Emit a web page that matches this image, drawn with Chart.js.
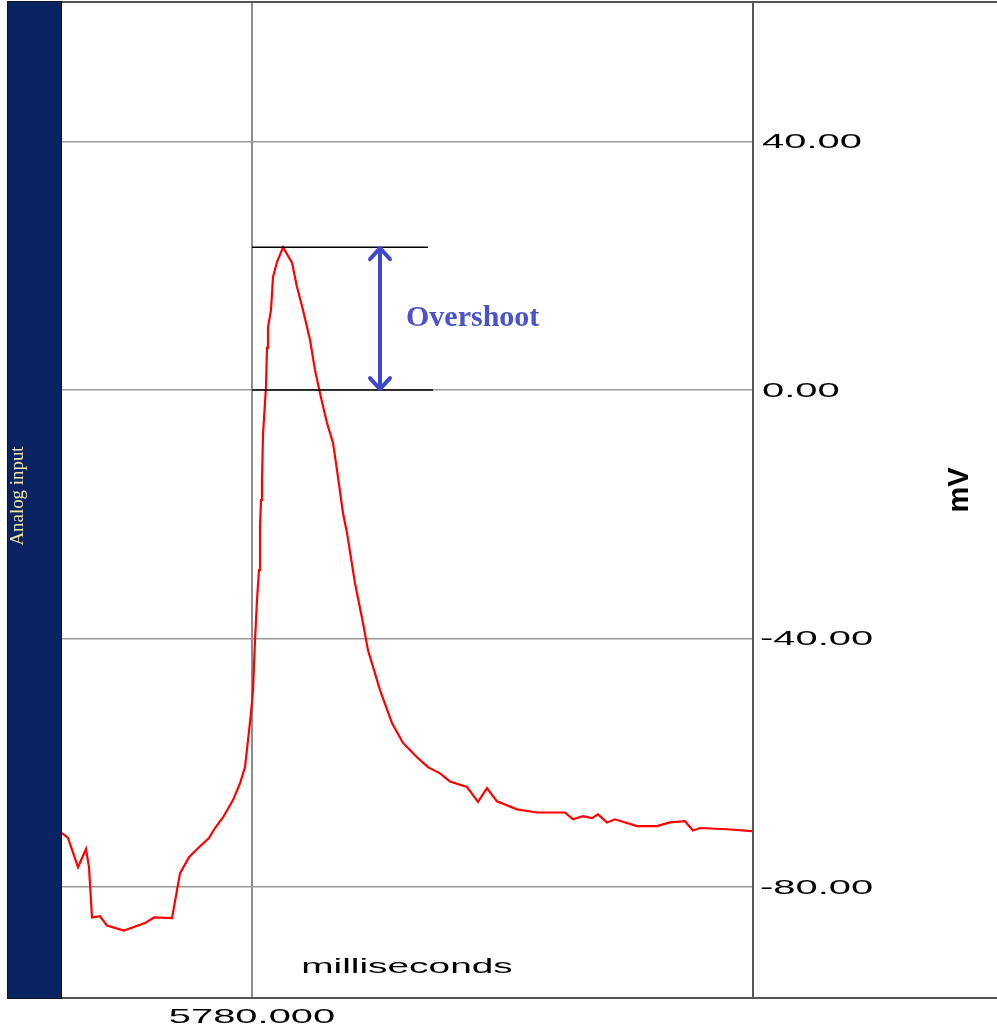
<!DOCTYPE html>
<html>
<head>
<meta charset="utf-8">
<script src="https://cdn.jsdelivr.net/npm/chart.js@4/dist/chart.umd.min.js"></script>
<style>
html,body{margin:0;padding:0;background:#fff;}
#wrap{position:relative;width:997px;height:1035px;}
</style>
</head>
<body>
<div id="wrap"><canvas id="apChart" width="997" height="1035"></canvas></div>
<script>
// trace (ms, mV)
const timeMs = [5776.20,5776.32,5776.52,5776.68,5776.74,5776.80,5776.96,5777.10,5777.44,5777.86,
  5778.04,5778.40,5778.50,5778.56,5778.74,5778.94,5779.14,5779.26,5779.42,5779.62,
  5779.76,5779.86,5779.92,5779.98,5780.02,5780.06,5780.10,5780.14,5780.16,5780.18,
  5780.20,5780.22,5780.28,5780.30,5780.32,5780.38,5780.42,5780.50,5780.62,5780.80,
  5780.90,5781.02,5781.16,5781.26,5781.36,5781.50,5781.62,5781.70,5781.82,5781.90,
  5782.06,5782.22,5782.32,5782.46,5782.56,5782.80,5783.02,5783.30,5783.52,5783.76,
  5783.96,5784.30,5784.52,5784.70,5784.90,5785.30,5785.70,5786.26,5786.42,5786.62,
  5786.80,5786.92,5787.10,5787.26,5787.70,5788.10,5788.36,5788.66,5788.82,5788.96,
  5789.50,5790.00];
const voltage = [-71.3,-72.1,-76.8,-73.9,-76.8,-84.9,-84.7,-86.2,-87.0,-85.8,
  -84.9,-85.0,-80.5,-77.8,-75.2,-73.6,-72.1,-70.5,-68.8,-66.0,
  -63.3,-60.7,-56.4,-52.0,-48.3,-40.3,-33.8,-29.0,-22.1,-17.7,
  -14.5,-7.2,0.5,6.8,10.1,12.9,18.2,20.6,23.0,20.5,
  16.6,12.9,8.1,3.2,-0.5,-5.3,-8.5,-12.9,-19.8,-23.0,
  -31.1,-37.5,-41.9,-45.6,-48.3,-53.6,-56.8,-59.1,-60.7,-61.7,
  -63.0,-63.9,-66.3,-64.1,-66.2,-67.5,-68.0,-68.0,-69.1,-68.6,
  -68.9,-68.3,-69.6,-69.1,-70.2,-70.2,-69.6,-69.4,-70.9,-70.5,
  -70.7,-71.0];
const yTicks = [40, 0, -40, -80];
const xTicks = [5780];
const peakMv = 23.0;

const points = timeMs.map((t,i)=>({x:t,y:voltage[i]}));

// wide stretched text like the recording software draws
function wideText(ctx, txt, x, y, sx, align){
  ctx.save();
  ctx.translate(x, y);
  ctx.scale(sx, 1);
  ctx.textAlign = align;
  ctx.fillText(txt, 0, 0);
  ctx.restore();
}

const decor = {
  id:'decor',
  beforeDraw(chart){
    const ctx = chart.ctx;
    ctx.save();
    ctx.fillStyle = '#fff';
    ctx.fillRect(0,0,chart.width,chart.height);
    ctx.restore();
  },
  afterDraw(chart){
    const ctx = chart.ctx, a = chart.chartArea;
    const xs = chart.scales.x, ys = chart.scales.y;
    ctx.save();

    // frame
    ctx.strokeStyle = '#555';
    ctx.lineWidth = 2;
    ctx.beginPath();
    ctx.moveTo(a.left, 2); ctx.lineTo(chart.width, 2);
    ctx.moveTo(a.right + 1, 2); ctx.lineTo(a.right + 1, a.bottom + 1);
    ctx.moveTo(a.left, a.bottom + 1); ctx.lineTo(chart.width, a.bottom + 1);
    ctx.stroke();

    // navy side panel
    ctx.fillStyle = '#0a2362';
    ctx.fillRect(8, 2, 53, a.bottom - 1);
    ctx.strokeStyle = '#111';
    ctx.lineWidth = 1;
    ctx.strokeRect(7.5, 1.5, 54, a.bottom);
    ctx.save();
    ctx.translate(18, 496);
    ctx.rotate(-Math.PI/2);
    ctx.scale(1.05, 1);
    ctx.fillStyle = '#f2e4a6';
    ctx.font = '18px "Liberation Serif"';
    ctx.textAlign = 'center';
    ctx.textBaseline = 'middle';
    ctx.fillText('Analog input', 0, 0);
    ctx.restore();

    // tick labels
    ctx.fillStyle = '#000';
    ctx.font = '21px "Liberation Sans"';
    ctx.textBaseline = 'middle';
    yTicks.forEach(v=>{
      const lbl = v.toFixed(2);
      const off = v < 0 ? 0 : 2;
      wideText(ctx, lbl, a.right + 8 + off, ys.getPixelForValue(v) + 1, 1.9, 'left');
    });
    xTicks.forEach(v=>{
      wideText(ctx, v.toFixed(3), xs.getPixelForValue(v), 1017, 1.9, 'center');
    });
    wideText(ctx, 'milliseconds', 407, 967, 1.85, 'center');

    // unit
    ctx.save();
    ctx.translate(960, 490);
    ctx.rotate(-Math.PI/2);
    ctx.font = 'bold 29px "Liberation Sans"';
    ctx.textAlign = 'center';
    ctx.fillText('mV', 0, 0);
    ctx.restore();

    // overshoot annotation
    const x0 = xs.getPixelForValue(5780);
    const yPeak = ys.getPixelForValue(peakMv);
    const yZero = ys.getPixelForValue(0);
    ctx.strokeStyle = '#000';
    ctx.lineWidth = 1.5;
    ctx.beginPath();
    ctx.moveTo(x0, yPeak); ctx.lineTo(xs.getPixelForValue(5783.52), yPeak);
    ctx.moveTo(x0, yZero); ctx.lineTo(xs.getPixelForValue(5783.62), yZero);
    ctx.stroke();

    const xa = xs.getPixelForValue(5782.56);
    ctx.strokeStyle = '#3f48cc';
    ctx.lineWidth = 4;
    ctx.lineCap = 'round';
    ctx.lineJoin = 'round';
    ctx.beginPath();
    ctx.moveTo(xa, yPeak + 2); ctx.lineTo(xa, yZero - 2);
    ctx.moveTo(xa - 10, yPeak + 12); ctx.lineTo(xa, yPeak + 1); ctx.lineTo(xa + 10, yPeak + 12);
    ctx.moveTo(xa - 10, yZero - 12); ctx.lineTo(xa, yZero - 1); ctx.lineTo(xa + 10, yZero - 12);
    ctx.stroke();

    ctx.fillStyle = '#4a52cc';
    ctx.font = 'bold 30px "Liberation Serif"';
    ctx.textAlign = 'left';
    ctx.textBaseline = 'middle';
    ctx.fillText('Overshoot', 406, 318);

    ctx.restore();
  }
};

new Chart(document.getElementById('apChart'),{
  type:'line',
  data:{datasets:[{
    data:points,
    borderColor:'#ff0000',
    borderWidth:2.2,
    pointRadius:0,
    tension:0
  }]},
  options:{
    responsive:false,
    animation:false,
    layout:{padding:{left:62,right:245,top:3,bottom:38}},
    plugins:{legend:{display:false},tooltip:{enabled:false}},
    scales:{
      x:{
        type:'linear', min:5776.2, max:5790.0,
        afterBuildTicks:s=>{ s.ticks = xTicks.map(v=>({value:v})); },
        ticks:{display:false},
        grid:{color:'#8c8c8c', lineWidth:2, drawTicks:false},
        border:{display:false}
      },
      y:{
        position:'right', min:-97.7, max:62.3,
        afterBuildTicks:s=>{ s.ticks = yTicks.map(v=>({value:v})); },
        ticks:{display:false},
        grid:{color:'#9a9a9a', lineWidth:1.5, drawTicks:false},
        border:{display:false}
      }
    }
  },
  plugins:[decor]
});
</script>
</body>
</html>
